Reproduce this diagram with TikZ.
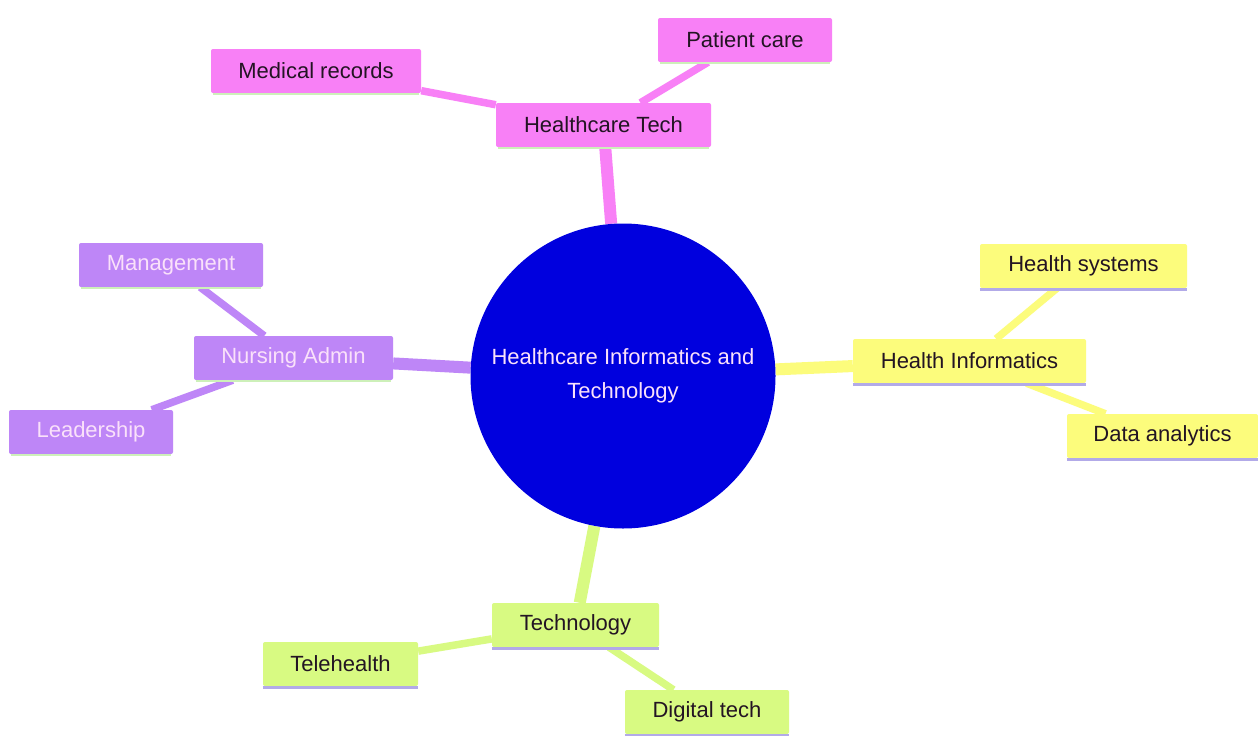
\documentclass[tikz,border=0pt]{standalone}
\usepackage{fontspec}
\setmainfont{Liberation Sans}
\usetikzlibrary{backgrounds}
\definecolor{cpink}{RGB}{248,128,246}
\definecolor{cpurple}{RGB}{190,134,247}
\definecolor{cyellow}{RGB}{252,252,124}
\definecolor{cgreen}{RGB}{216,250,130}
\definecolor{ccenter}{RGB}{0,0,222}
\definecolor{lgreen}{RGB}{205,240,185}
\definecolor{lav}{RGB}{178,170,232}
\definecolor{lighttxt}{RGB}{250,225,250}
\definecolor{darktxt}{RGB}{35,20,35}
\tikzset{
  mm/.style={rectangle, rounded corners=2pt, inner sep=0pt, minimum height=44pt,
    font=\fontsize{22}{26}\selectfont, text=darktxt},
  pinkbox/.style={mm, fill=cpink},
  purplebox/.style={mm, fill=cpurple, text=lighttxt},
  yellowbox/.style={mm, fill=cyellow},
  greenbox/.style={mm, fill=cgreen},
  edgeA/.style={line width=12pt},
  edgeB/.style={line width=7.5pt},
}
\begin{document}
\begin{tikzpicture}[x=1pt,y=-1pt]
\useasboundingbox (0,0) rectangle (1258,736);
% central
\node[circle, fill=ccenter, minimum size=305pt, inner sep=0pt, text=lighttxt,
  align=center, font=\fontsize{22}{34}\selectfont] (c) at (623,376)
  {Healthcare Informatics and\\Technology};
% pink
\node[pinkbox, minimum width=215pt] (ht) at (603.5,125) {Healthcare Tech};
\node[pinkbox, minimum width=174pt] (pc) at (745,40) {Patient care};
\node[pinkbox, minimum width=210pt] (mr) at (316,71) {Medical records};
% purple
\node[purplebox, minimum width=199pt] (na) at (293.5,358) {Nursing Admin};
\node[purplebox, minimum width=184pt] (mg) at (171,265) {Management};
\node[purplebox, minimum width=164pt] (ld) at (91,432) {Leadership};
% yellow
\node[yellowbox, minimum width=233pt] (hi) at (969.5,361) {Health Informatics};
\node[yellowbox, minimum width=207pt] (hs) at (1083.5,266) {Health systems};
\node[yellowbox, minimum width=191pt] (da) at (1162.5,436) {Data analytics};
% green
\node[greenbox, minimum width=167pt] (te) at (575.5,625) {Technology};
\node[greenbox, minimum width=155pt] (th) at (340.5,664) {Telehealth};
\node[greenbox, minimum width=164pt] (dt) at (707,712) {Digital tech};
% bottom lines
\foreach \n in {ht,pc,mr,na,mg,ld}{
  \draw[lgreen, line width=2.5pt] ([xshift=2pt,yshift=-1pt]\n.south west) -- ([xshift=-2pt,yshift=-1pt]\n.south east);
}
\foreach \n in {hi,hs,da,te,th,dt}{
  \draw[lav, line width=3pt] ([yshift=-1pt]\n.south west) -- ([yshift=-1pt]\n.south east);
}
\begin{pgfonlayer}{background}
\fill[white] (0,0) rectangle (1258,736);
\draw[cpink, edgeA] (c) -- (ht);
\draw[cpink, edgeB] (ht) -- (pc);
\draw[cpink, edgeB] (ht) -- (mr);
\draw[cpurple, edgeA] (c) -- (na);
\draw[cpurple, edgeB] (na) -- (mg);
\draw[cpurple, edgeB] (na) -- (ld);
\draw[cyellow, edgeA] (c) -- (hi);
\draw[cyellow, edgeB] (hi) -- (hs);
\draw[cyellow, edgeB] (hi) -- (da);
\draw[cgreen, edgeA] (c) -- (te);
\draw[cgreen, edgeB] (te) -- (th);
\draw[cgreen, edgeB] (te) -- (dt);
\end{pgfonlayer}
\end{tikzpicture}
\end{document}
